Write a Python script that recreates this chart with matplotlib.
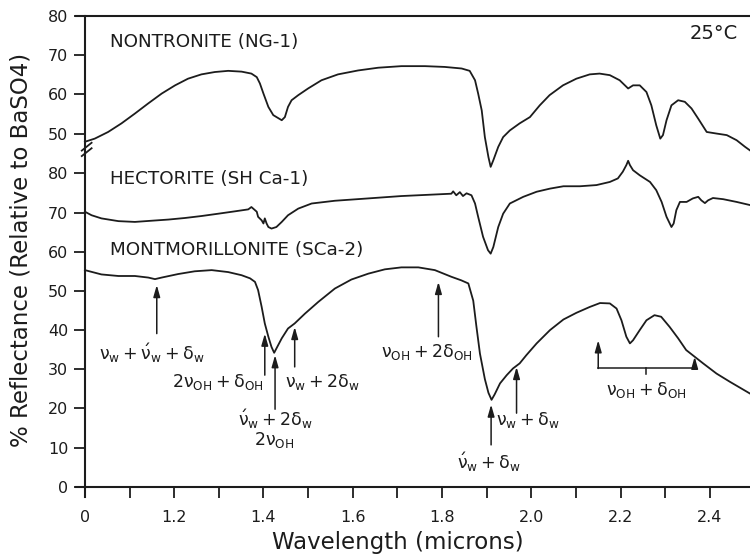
import numpy as np
import matplotlib.pyplot as plt

plt.rcParams['font.family'] = 'DejaVu Sans'
plt.rcParams['mathtext.fontset'] = 'dejavusans'
plt.rcParams['mathtext.default'] = 'regular'

INK = '#1c1c1c'

# ---- spectra (wavelength in microns, % reflectance) ----
# nontronite is read on the upper, broken scale (50-80)
nont_wl = [1.000, 1.022, 1.052, 1.082, 1.112, 1.142, 1.172, 1.202, 1.231, 1.261,
           1.291, 1.321, 1.351, 1.373, 1.385, 1.392, 1.400, 1.411, 1.422, 1.441,
           1.448, 1.455, 1.463, 1.478, 1.500, 1.530, 1.567, 1.612, 1.657, 1.709,
           1.762, 1.806, 1.844, 1.862, 1.874, 1.881, 1.889, 1.896, 1.904, 1.909,
           1.915, 1.926, 1.937, 1.952, 1.974, 1.997, 2.019, 2.041, 2.071, 2.101,
           2.131, 2.153, 2.176, 2.198, 2.217, 2.228, 2.243, 2.258, 2.269, 2.280,
           2.289, 2.295, 2.303, 2.314, 2.329, 2.344, 2.359, 2.374, 2.393, 2.415,
           2.438, 2.460, 2.479, 2.490]
nont_refl = [47.9, 48.7, 50.4, 52.6, 55.1, 57.7, 60.2, 62.3, 64.0, 65.1,
             65.7, 66.0, 65.8, 65.3, 64.4, 62.8, 60.2, 56.8, 54.7, 53.4,
             54.2, 56.8, 58.5, 59.8, 61.5, 63.6, 65.1, 66.1, 66.8, 67.2,
             67.2, 67.0, 66.6, 66.0, 63.6, 60.2, 55.9, 49.1, 44.0, 41.5,
             43.2, 46.6, 49.1, 50.8, 52.6, 54.2, 57.2, 59.8, 62.3, 64.0,
             65.1, 65.3, 64.9, 63.6, 61.5, 62.3, 62.3, 60.6, 57.2, 52.1,
             48.7, 49.6, 53.4, 57.2, 58.5, 58.1, 56.4, 53.8, 50.4, 50.0,
             49.6, 48.3, 46.6, 45.7]
NONT_OFFSET = 40.15   # shift of the upper scale above the lower one

hect_wl = [1.000, 1.015, 1.037, 1.075, 1.112, 1.149, 1.187, 1.224, 1.261, 1.299,
           1.336, 1.366, 1.373, 1.377, 1.381, 1.385, 1.388, 1.396, 1.400, 1.403,
           1.407, 1.411, 1.418, 1.429, 1.441, 1.455, 1.478, 1.508, 1.560, 1.635,
           1.709, 1.784, 1.821, 1.825, 1.832, 1.840, 1.847, 1.855, 1.866, 1.874,
           1.881, 1.892, 1.903, 1.909, 1.915, 1.926, 1.937, 1.952, 1.982, 2.012,
           2.042, 2.072, 2.109, 2.146, 2.176, 2.194, 2.205, 2.213, 2.217, 2.221,
           2.228, 2.243, 2.266, 2.280, 2.292, 2.303, 2.314, 2.319, 2.325, 2.333,
           2.348, 2.362, 2.374, 2.381, 2.389, 2.396, 2.407, 2.430, 2.460, 2.490]
hect_refl = [70.2, 69.3, 68.5, 67.8, 67.6, 67.9, 68.2, 68.6, 69.1, 69.7,
             70.3, 70.8, 71.4, 71.0, 70.6, 70.2, 68.9, 68.0, 67.2, 68.5,
             67.2, 66.3, 65.9, 66.3, 67.6, 69.3, 71.0, 72.3, 73.0, 73.6,
             74.2, 74.6, 74.8, 75.4, 74.4, 75.2, 74.2, 74.9, 74.4, 72.3,
             68.9, 63.8, 60.4, 59.5, 61.2, 66.3, 69.7, 72.3, 74.0, 75.3,
             76.1, 76.7, 76.7, 77.0, 77.8, 78.7, 80.4, 82.1, 83.2, 82.1,
             80.8, 79.5, 77.8, 75.7, 72.7, 68.9, 66.3, 67.2, 70.6, 72.7,
             72.7, 73.6, 74.0, 73.1, 72.4, 73.1, 73.7, 73.4, 72.7, 71.9]

mont_wl = [1.000, 1.037, 1.075, 1.112, 1.142, 1.157, 1.172, 1.209, 1.246, 1.284,
           1.321, 1.351, 1.370, 1.381, 1.388, 1.396, 1.403, 1.411, 1.418, 1.424,
           1.429, 1.441, 1.455, 1.470, 1.493, 1.523, 1.560, 1.597, 1.635, 1.672,
           1.709, 1.747, 1.784, 1.821, 1.843, 1.859, 1.870, 1.877, 1.885, 1.896,
           1.904, 1.911, 1.918, 1.930, 1.945, 1.959, 1.974, 1.989, 2.012, 2.042,
           2.072, 2.101, 2.131, 2.154, 2.176, 2.191, 2.202, 2.213, 2.221, 2.228,
           2.243, 2.258, 2.276, 2.291, 2.310, 2.329, 2.347, 2.366, 2.385, 2.415,
           2.445, 2.490]
mont_refl = [55.3, 54.2, 53.8, 53.8, 53.4, 53.0, 53.4, 54.3, 55.0, 55.3,
             54.8, 54.0, 53.2, 52.3, 50.2, 45.9, 41.7, 38.3, 35.7, 34.2,
             35.3, 37.9, 40.4, 41.7, 44.2, 47.2, 50.6, 52.9, 54.4, 55.5,
             56.0, 56.0, 55.3, 53.6, 52.7, 51.9, 47.5, 41.0, 34.0, 27.5,
             24.0, 22.2, 23.6, 26.4, 28.5, 30.2, 31.5, 33.6, 36.6, 40.0,
             42.7, 44.4, 45.9, 46.9, 46.8, 45.5, 42.5, 38.3, 36.6, 37.4,
             40.0, 42.5, 43.8, 43.4, 40.8, 37.9, 34.9, 33.2, 31.5, 28.9,
             26.8, 23.8]

# band assignments on the montmorillonite curve:
# (text, arrow x, arrow head y, arrow tail y, text x, text y, alignment)
bands = [
    (r"$\nu_w+\acute{\nu}_w+\delta_w$", 1.161, 51.5, 39.1, 1.150, 34.0, 'center'),
    (r"$2\nu_{OH}+\delta_{OH}$", 1.403, 39.1, 28.5, 1.400, 26.8, 'right'),
    (r"$\acute{\nu}_w+2\delta_w$", 1.426, 33.6, 19.8, 1.426, 17.3, 'center'),
    (r"$\nu_w+2\delta_w$", 1.470, 40.8, 30.6, 1.449, 26.8, 'left'),
    (r"$\nu_{OH}+2\delta_{OH}$", 1.792, 52.3, 38.3, 1.767, 34.4, 'center'),
    (r"$\acute{\nu}_w+\delta_w$", 1.910, 21.0, 10.7, 1.906, 6.2, 'center'),
    (r"$\nu_w+\delta_w$", 1.967, 30.6, 18.8, 1.920, 17.0, 'left'),
]

fig = plt.figure(figsize=(7.5, 5.57), dpi=100)
ax = fig.add_axes([0.1013, 0.1077, 0.8987, 0.8636])

ax.plot(nont_wl, np.array(nont_refl) + NONT_OFFSET, color=INK, lw=1.3)
ax.plot(hect_wl, hect_refl, color=INK, lw=1.3)
ax.plot(mont_wl, mont_refl, color=INK, lw=1.3)

ax.set_xlim(0.98, 2.49)
ax.set_ylim(-2.6, 120.1)

# axes frame: left + bottom crossing at (1.0, 0), top rule, no right side
ax.spines['right'].set_visible(False)
ax.spines['left'].set_position(('data', 1.0))
ax.spines['bottom'].set_position(('data', 0))
for s in ('left', 'bottom', 'top'):
    ax.spines[s].set_color(INK)
    ax.spines[s].set_linewidth(1.5)

xt = np.round(np.arange(1.0, 2.45, 0.1), 1)
xl = ['0' if v == 1.0 else (f'{v:.1f}' if round(v * 10) % 2 == 0 else '') for v in xt]
ax.set_xticks(xt)
ax.set_xticklabels(xl)

yt = list(range(0, 81, 10)) + [v + NONT_OFFSET for v in (50, 60, 70, 80)]
yl = [str(v) for v in range(0, 81, 10)] + ['50', '60', '70', '80']
ax.set_yticks(yt)
ax.set_yticklabels(yl)
ax.tick_params(axis='both', colors=INK, length=8, width=1.3, labelsize=11.5)
ax.tick_params(axis='x', pad=9)
ax.tick_params(axis='y', pad=4)

# break marks on the y axis between the two scales
for y0 in (84.4, 85.8):
    ax.plot([0.993, 1.015], [y0, y0 + 2.0], color=INK, lw=1.3, clip_on=False)

# sample names
ax.text(1.056, 113.6, 'NONTRONITE (NG-1)', fontsize=13.2, color=INK, va='center')
ax.text(1.056, 78.5, 'HECTORITE (SH Ca-1)', fontsize=13.2, color=INK, va='center')
ax.text(1.056, 60.5, 'MONTMORILLONITE (SCa-2)', fontsize=13.2, color=INK, va='center')
ax.text(2.462, 115.6, '25°C', fontsize=14, color=INK, va='center', ha='right')

arrow = dict(arrowstyle='-|>,head_length=0.7,head_width=0.2', color=INK, lw=1.1,
             shrinkA=0, shrinkB=0)
for txt, xa, yh, yt0, xtx, ytx, ha in bands:
    ax.annotate('', xy=(xa, yh), xytext=(xa, yt0), arrowprops=arrow)
    ax.text(xtx, ytx, txt, fontsize=12.5, color=INK, ha=ha, va='center')
ax.text(1.424, 11.9, r'$2\nu_{OH}$', fontsize=12.5, color=INK, ha='center', va='center')

# combination band bracket around 2.2 microns
ax.annotate('', xy=(2.150, 37.4), xytext=(2.150, 30.2), arrowprops=arrow)
ax.annotate('', xy=(2.366, 33.2), xytext=(2.366, 30.2), arrowprops=arrow)
ax.plot([2.150, 2.366], [30.2, 30.2], color=INK, lw=1.1)
ax.plot([2.256, 2.256], [30.2, 28.9], color=INK, lw=1.1)
ax.text(2.258, 24.7, r'$\nu_{OH}+\delta_{OH}$', fontsize=12.5, color=INK,
        ha='center', va='center')

fig.text(0.028, 0.551, '% Reflectance (Relative to BaSO4)', rotation=90,
         fontsize=16.5, color=INK, ha='center', va='center')
fig.text(0.531, 0.026, 'Wavelength (microns)', fontsize=16.5, color=INK,
         ha='center', va='center')

fig.savefig('out.png', dpi=100)
